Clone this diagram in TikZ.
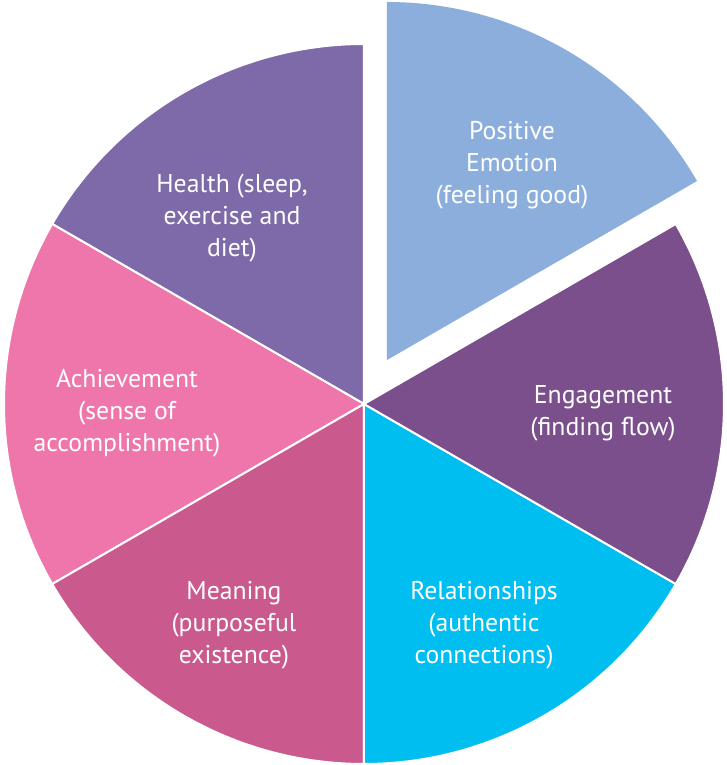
\documentclass[tikz,border=0pt]{standalone}
\usepackage{fontspec}
\setmainfont{PT Sans}
\definecolor{posblue}{RGB}{140,174,220}
\definecolor{engpurple}{RGB}{123,78,140}
\definecolor{relcyan}{RGB}{0,191,240}
\definecolor{meanrose}{RGB}{202,90,141}
\definecolor{achpink}{RGB}{238,118,171}
\definecolor{healthviolet}{RGB}{126,106,168}

\begin{document}
\begin{tikzpicture}[x=0.75pt,y=0.75pt]
\tikzset{
  slice/.style={draw=white,line width=1.5pt,line join=round},
  slicelabel/.style={text=white,align=center,font=\fontsize{19.3}{24}\selectfont,inner sep=0pt}
}
\useasboundingbox (-364,-361) rectangle (362,404);
\fill[healthviolet,slice] (0,0) -- (90:360) arc[start angle=90,end angle=150,radius=360] -- cycle;
\fill[achpink,slice] (0,0) -- (150:360) arc[start angle=150,end angle=210,radius=360] -- cycle;
\fill[meanrose,slice] (0,0) -- (210:360) arc[start angle=210,end angle=270,radius=360] -- cycle;
\fill[relcyan,slice] (0,0) -- (270:360) arc[start angle=270,end angle=330,radius=360] -- cycle;
\fill[engpurple,slice] (0,0) -- (330:360) arc[start angle=330,end angle=390,radius=360] -- cycle;
\fill[posblue,shift={(23,44)}] (0,0) -- (30:358) arc[start angle=30,end angle=90,radius=358] -- cycle;
\node[slicelabel] (lbl_pos) at (148,239) {Positive\\Emotion\\(feeling good)};
\node[slicelabel] (lbl_eng) at (239,-9) {Engagement\\(finding flow)};
\node[slicelabel] (lbl_rel) at (120,-221) {Relationships\\(authentic\\connections)};
\node[slicelabel] (lbl_mean) at (-130,-221) {Meaning\\(purposeful\\existence)};
\node[slicelabel] (lbl_ach) at (-237,-9) {Achievement\\(sense of\\accomplishment)};
\node[slicelabel] (lbl_health) at (-132,186) {Health (sleep,\\exercise and\\diet)};
\end{tikzpicture}
\end{document}
